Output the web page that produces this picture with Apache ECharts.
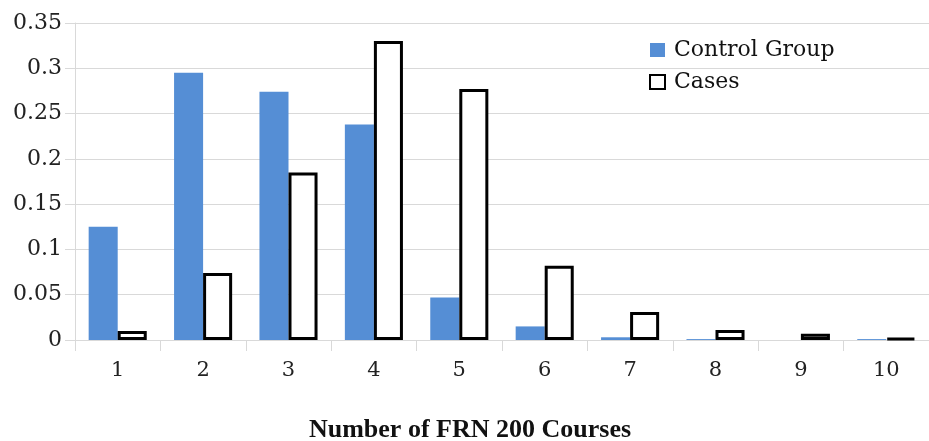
<!DOCTYPE html>
<html><head><meta charset="utf-8">
<script src="https://cdn.jsdelivr.net/npm/echarts@6/dist/echarts.min.js"></script>
<style>html,body{margin:0;padding:0;background:#fff}#c{width:929px;height:441px}</style>
</head><body><div id="c"></div>
<script>
const categories = ['1','2','3','4','5','6','7','8','9','10'];
const controlGroup = [0.125, 0.295, 0.274, 0.238, 0.047, 0.015, 0.003, 0.001, 0, 0.001];
const cases = [0.010, 0.074, 0.185, 0.330, 0.277, 0.082, 0.031, 0.011, 0.007, 0.002];
const yTicks = { min: 0, max: 0.35, interval: 0.05 };
const xTitle = 'Number of FRN 200 Courses';

const font = 'DejaVu Serif';
const chart = echarts.init(document.getElementById('c'));
chart.setOption({
  animation: false,
  backgroundColor: '#fff',
  grid: { left: 75, right: 0, top: 23, bottom: 101, containLabel: false, outerBoundsMode: 'none' },
  legend: {
    orient: 'vertical', left: 644, top: 34, itemWidth: 15, itemHeight: 14, itemGap: 10,
    icon: 'rect',
    textStyle: { fontFamily: font, fontSize: 22, color: '#111', padding: [0,0,0,4] },
    data: ['Control Group', 'Cases']
  },
  xAxis: {
    type: 'category', data: categories,
    name: xTitle, nameLocation: 'middle', nameGap: 77,
    nameTextStyle: { fontFamily: 'Liberation Serif', fontWeight: 'bold', fontSize: 26, color: '#111',
      padding: [0, 64, 0, 0] },
    axisLine: { lineStyle: { color: '#d9d9d9', width: 1 } },
    axisTick: { show: true, length: 11, lineStyle: { color: '#d9d9d9' } },
    axisLabel: { fontFamily: font, fontSize: 21, color: '#222', margin: 20 }
  },
  yAxis: {
    type: 'value', min: yTicks.min, max: yTicks.max, interval: yTicks.interval,
    axisLine: { show: true, lineStyle: { color: '#d9d9d9' } },
    axisTick: { show: true, length: 10, lineStyle: { color: '#d9d9d9' } },
    splitLine: { lineStyle: { color: '#d9d9d9', width: 1 } },
    axisLabel: { fontFamily: font, fontSize: 22, color: '#222', margin: 13,
      formatter: v => String(+v.toFixed(2)) }
  },
  series: [
    { name: 'Control Group', type: 'bar', data: controlGroup, barGap: '0%', barCategoryGap: '32%',
      itemStyle: { color: '#558ed5' } },
    { name: 'Cases', type: 'bar', data: cases, barGap: '0%', barCategoryGap: '32%',
      itemStyle: { color: '#ffffff', borderColor: '#000', borderWidth: 3 } }
  ]
});
</script></body></html>
